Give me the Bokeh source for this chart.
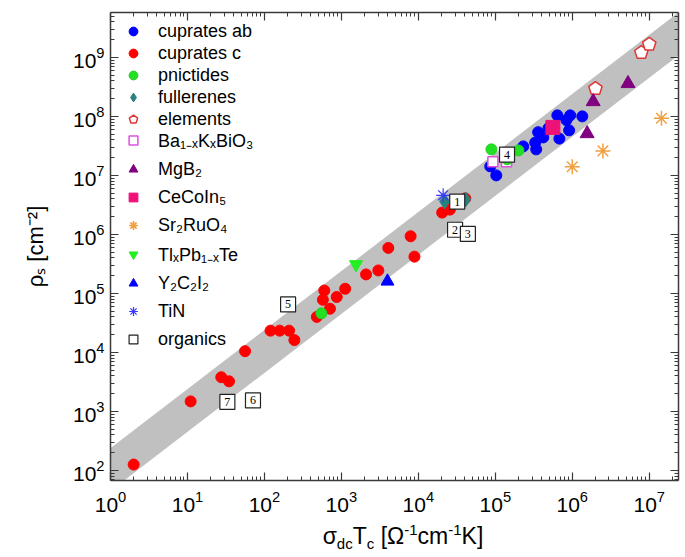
from bokeh.plotting import figure
from bokeh.layouts import column
from bokeh.models import (LogAxis, FixedTicker, Legend, LegendItem, Range1d,
                          CustomJSTickFormatter, Div)
from bokeh.core.properties import value
from bokeh.embed import file_html
from bokeh.resources import INLINE

FONT = "Liberation Sans"

# ---------------- data (sigma_dc*Tc , rho_s) ----------------
c_x = [2.0, 11, 27.5, 34.7, 56, 120, 158, 209, 245, 480, 600, 575, 710, 870, 1120,
       2090, 3020, 4070, 7940, 8900, 2.04e4, 2.57e4, 4.07e4]
c_y = [126, 1480, 3800, 3240, 1.05e4, 2.34e4, 2.34e4, 2.34e4, 1.62e4, 4.0e4, 1.12e5,
       7.8e4, 5.5e4, 8.7e4, 1.2e5, 2.1e5, 2.45e5, 5.9e5, 9.3e5, 4.2e5, 2.34e6, 2.63e6, 4.07e6]

ab_x = [8.6e4, 1.03e5, 2.31e5, 3.4e5, 3.3e5, 3.6e5, 4.2e5, 4.9e5, 6.8e5, 6.4e5, 8.4e5,
        9.4e5, 9.1e5, 1.35e6]
ab_y = [1.42e7, 1.0e7, 3.1e7, 2.76e7, 3.6e7, 5.4e7, 4.4e7, 6.3e7, 4.2e7, 1.04e8, 8.6e7,
        1.04e8, 5.8e7, 1.0e8]

pn_x = [8.9e4, 2.0e5, 1.43e5, 550]
pn_y = [2.76e7, 2.65e7, 1.87e7, 4.6e4]

ful_x = [2.2e4, 4.1e4]
ful_y = [3.6e6, 3.9e6]

el_x = [2.0e6, 7.9e6, 1.0e7]
el_y = [2.95e8, 1.2e9, 1.66e9]

bkbo_x = [9.3e4, 1.4e5]
bkbo_y = [1.7e7, 1.7e7]

mgb2_x = [1.87e6, 1.56e6, 5.3e6]
mgb2_y = [1.78e8, 5.1e7, 3.6e8]

cecoin_x = [5.6e5]
cecoin_y = [6.5e7]

sr_x = [1.0e6, 2.5e6, 1.44e7]
sr_y = [1.4e7, 2.6e7, 9.3e7]

tl_x = [1550]
tl_y = [3.1e5]

y2c2_x = [3970]
y2c2_y = [1.6e5]

tin_x = [2.1e4]
tin_y = [4.6e6]

org_x = [3.2e4, 3.0e4, 4.4e4, 1.42e5, 203, 71, 33]
org_y = [3.6e6, 1.2e6, 1.02e6, 2.24e7, 6.5e4, 1540, 1450]
org_lab = ["1", "2", "3", "4", "5", "6", "7"]

# Homes-law band limits (rho_s = k * sigma_dc*Tc)
band_x = [0.3, 1e8]
band_k_lo = 45
band_k_hi = 240

x_major = [1, 1e1, 1e2, 1e3, 1e4, 1e5, 1e6, 1e7]
y_major = [1e2, 1e3, 1e4, 1e5, 1e6, 1e7, 1e8, 1e9]

# ---------------- main figure ----------------
p = figure(width=685, height=520, x_axis_type="log", y_axis_type="log",
           x_range=Range1d(1, 2.4e7), y_range=Range1d(10 ** 1.83, 10 ** 9.76),
           output_backend="svg", toolbar_location=None,
           min_border_left=110, min_border_right=7, min_border_top=12, min_border_bottom=40)
p.grid.visible = False
p.outline_line_color = None
p.background_fill_color = "white"

def minors(majors):
    out = [m * k for m in majors for k in range(2, 10)]
    out += [majors[0] / 10 * k for k in range(2, 10)]
    return out

xt = FixedTicker(ticks=x_major, minor_ticks=minors(x_major))
yt = FixedTicker(ticks=y_major, minor_ticks=minors(y_major))

bottom = p.xaxis[0]
left = p.yaxis[0]
bottom.ticker = xt
left.ticker = yt
blank = CustomJSTickFormatter(code="return ''")
right = LogAxis(ticker=yt, formatter=blank)
top = LogAxis(ticker=xt, formatter=blank)
p.add_layout(right, "right")
p.add_layout(top, "above")

for ax in [bottom, left, right, top]:
    ax.major_tick_in = 8
    ax.major_tick_out = 0
    ax.minor_tick_in = 4
    ax.minor_tick_out = 0
    ax.axis_line_color = "#3a3a3a"
    ax.axis_line_width = 1.5
    ax.major_tick_line_color = "#3a3a3a"
    ax.minor_tick_line_color = "#3a3a3a"
    ax.major_tick_line_width = 1.2
for ax in [bottom, left]:
    ax.major_label_text_font = FONT
    ax.major_label_text_font_size = "21px"
    ax.major_label_text_color = "black"
bottom.major_label_standoff = 10
left.major_label_standoff = 6
for ax in [right, top]:
    ax.major_label_text_font_size = "2px"
    ax.major_label_standoff = 0

left.axis_label = "ρₛ [cm⁻²]"
left.axis_label_text_font = FONT
left.axis_label_text_font_size = "22px"
left.axis_label_text_font_style = "normal"
left.axis_label_text_color = "black"
left.axis_label_standoff = 22

# band
p.varea(x=band_x, y1=[band_k_lo * v for v in band_x], y2=[band_k_hi * v for v in band_x],
        fill_color="#c0c0c0")

# data
r_c = p.scatter(c_x, c_y, marker="circle", size=11, fill_color="#ff0000", line_color="#ff0000")
r_ab = p.scatter(ab_x, ab_y, marker="circle", size=11, fill_color="#0000ff", line_color="#0000ff")
r_ful = p.scatter(ful_x, ful_y, marker="diamond", size=15, fill_color="#2a7f7f", line_color="#2a7f7f")
r_bk = p.scatter(bkbo_x, bkbo_y, marker="square", size=10, fill_color="white",
                 line_color="#e050e0", line_width=1.5)
r_pn = p.scatter(pn_x, pn_y, marker="circle", size=11, fill_color="#22e022", line_color="#22cc22")
r_el = p.ngon(x=el_x, y=el_y, radius=7, radius_units="screen", n=5, fill_color="white",
              line_color="#e03535", line_width=1.5)
r_mg = p.scatter(mgb2_x, mgb2_y, marker="triangle", size=14, fill_color="#800080", line_color="#800080")
r_ce = p.scatter(cecoin_x, cecoin_y, marker="square", size=14, fill_color="#ee1177", line_color="#ee1177")
r_sr = p.scatter(sr_x, sr_y, marker="asterisk", size=15, line_color="#f0a040", line_width=1.5)
r_tl = p.scatter(tl_x, tl_y, marker="inverted_triangle", size=13, fill_color="#22ee22", line_color="#22ee22")
r_y2 = p.scatter(y2c2_x, y2c2_y, marker="triangle", size=13, fill_color="#0000ff", line_color="#0000ff")
r_tin = p.scatter(tin_x, tin_y, marker="asterisk", size=14, line_color="#3a3aff", line_width=1.2)
r_org = p.scatter(org_x, org_y, marker="square", size=15, fill_color="white",
                  line_color="#222222", line_width=1.2)
p.text(x=org_x, y=org_y, text=org_lab, text_align="center", text_baseline="middle",
       text_font=value("Liberation Serif"), text_font_size="12px", text_color="black")

# legends
def make_legend(items, loc, spacing):
    lg = Legend(items=[LegendItem(label=t, renderers=[r]) for t, r in items],
                location=loc, glyph_width=22, glyph_height=22, label_height=22,
                label_standoff=14, padding=0, margin=0, spacing=spacing,
                border_line_alpha=0, background_fill_alpha=0,
                label_text_font=FONT, label_text_font_size="18px", label_text_color="black")
    p.add_layout(lg)

make_legend([("cuprates ab", r_ab), ("cuprates c", r_c), ("pnictides", r_pn),
             ("fullerenes", r_ful), ("elements", r_el)], (12, 350), 0)
make_legend([("Ba₁₋ₓKₓBiO₃", r_bk), ("MgB₂", r_mg), ("CeCoIn₅", r_ce), ("Sr₂RuO₄", r_sr),
             ("TlₓPb₁₋ₓTe", r_tl), ("Y₂C₂I₂", r_y2), ("TiN", r_tin), ("organics", r_org)],
            (12, 130), 6)

# ---------------- x-axis title (HTML, with sub/superscripts) ----------------
SUB = 'style="font-size:15px;line-height:0;vertical-align:-5px"'
SUP = 'style="font-size:15px;line-height:0;vertical-align:9px"'
x_title = (f'σ<span {SUB}>dc</span>T<span {SUB}>c</span> [Ω<span {SUP}>-1</span>'
           f'cm<span {SUP}>-1</span>K]')
html = ('<div style="width:685px;height:37px;box-sizing:border-box;padding-left:121px;'
        'padding-top:5px;text-align:center;font-family:\'Liberation Sans\',Arial,sans-serif;'
        'font-size:23px;line-height:23px;color:black;white-space:nowrap;">'
        + x_title + '</div>')
xdiv = Div(text=html, width=685, height=37, margin=0)

layout = column(p, xdiv, spacing=0)
open("out.html", "w").write(file_html(layout, INLINE))
